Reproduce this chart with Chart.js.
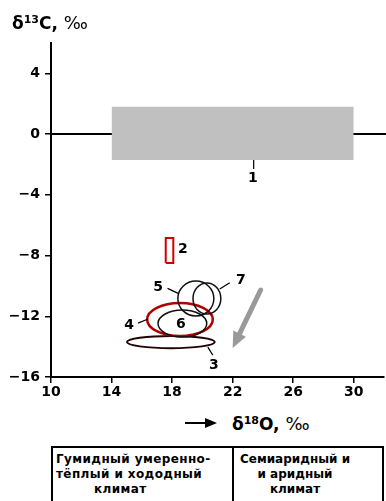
<!DOCTYPE html>
<html>
<head>
<meta charset="utf-8">
<script src="https://cdn.jsdelivr.net/npm/chart.js@4"></script>
<style>
body { margin: 0; width: 386px; height: 501px; overflow: hidden; position: relative; background: #fff; font-family: "DejaVu Sans", sans-serif; }
#wrap { position: absolute; left: 0; top: 0; width: 386px; height: 410px; }
#ytitle { position: absolute; left: 12px; top: 12px; font-size: 17px; font-weight: bold; white-space: nowrap; }
#ytitle sup, #xtitle sup { font-size: 11px; vertical-align: 6px; }
#xtitle { position: absolute; left: 232px; top: 413px; font-size: 17px; font-weight: bold; white-space: nowrap; }
.permil { font-weight: normal; font-size: 18px; }
#xarrow { position: absolute; left: 185px; top: 422px; width: 22px; height: 2px; background: #000; }
#xarrowhead { position: absolute; left: 205px; top: 418px; width: 0; height: 0; border-top: 5px solid transparent; border-bottom: 5px solid transparent; border-left: 12px solid #000; }
#tbl { position: absolute; left: 51px; top: 446px; width: 329px; height: 70px; border: 2px solid #000; }
#divider { position: absolute; left: 179px; top: 0; width: 2px; height: 100%; background: #000; }
.cell { position: absolute; top: 4px; font-size: 12px; font-weight: bold; line-height: 15px; white-space: nowrap; }
</style>
</head>
<body>
<div id="wrap"><canvas id="myChart" width="386" height="410"></canvas></div>
<div id="ytitle">δ<sup>13</sup>C, <span class="permil">‰</span></div>
<div id="xarrow"></div><div id="xarrowhead"></div>
<div id="xtitle">δ<sup>18</sup>O, <span class="permil">‰</span></div>
<div id="tbl">
  <div id="divider"></div>
  <div class="cell" style="left:3px;letter-spacing:0.4px;">Гумидный умеренно-<br>тёплый и хододный<br><span style="padding-left:38px;">климат</span></div>
  <div class="cell" style="left:181px;width:122px;text-align:center;">Семиаридный и<br>и аридный<br>климат</div>
</div>
<script>
// оси
var xTicks = [10, 14, 18, 22, 26, 30];
var yTicks = [4, 0, -4, -8, -12, -16];

// линия 0
var baseX = [10, 32.2];
var baseY = [0, 0];

// поле 1
var range1X = [14, 30];
var range1Y = [-1.7, 1.8];

// поле 2
var range2X = [17.58, 18.08];
var range2Y = [-8.49, -6.85];

// эллипсы 3,4,6,5,7
var ellipseId = ['3', '4', '6', '5', '7'];
var ellipseCX = [17.92, 18.52, 18.68, 19.57, 20.30];
var ellipseCY = [-13.70, -12.21, -12.48, -10.83, -10.83];
var ellipseRX = [2.90, 2.17, 1.61, 1.19, 0.92];
var ellipseRY = [0.40, 1.09, 0.89, 1.15, 1.02];

// подписи
var labelText = ['1', '2', '3', '4', '5', '6', '7'];
var labelX = [23.33, 18.72, 20.76, 15.16, 17.07, 18.58, 22.54];
var labelY = [-2.89, -7.57, -15.21, -12.58, -10.07, -12.51, -9.61];

// выноски
var leaderX1 = [23.39, 20.36, 15.75, 17.70, 21.81];
var leaderY1 = [-1.70, -14.03, -12.45, -10.16, -9.79];
var leaderX2 = [23.39, 20.69, 16.41, 18.40, 21.15];
var leaderY2 = [-2.30, -14.56, -12.18, -10.49, -10.21];

// стрелка тренда
var trendX = [23.85, 22.0];
var trendY = [-10.27, -14.09];

var ellipseStyle = {
	'3': { color: '#220202', width: 2 },
	'4': { color: '#b00000', width: 2.5 },
	'6': { color: '#111', width: 1.5 },
	'5': { color: '#111', width: 1.5 },
	'7': { color: '#111', width: 1.5 }
};

var drawPlugin = {
	id: 'marks',
	afterDatasetsDraw: function(chart) {
		var c = chart.ctx;
		var sx = chart.scales.x, sy = chart.scales.y;
		c.save();
		// эллипсы
		for (var i = 0; i < ellipseId.length; i++) {
			var px = sx.getPixelForValue(ellipseCX[i]);
			var py = sy.getPixelForValue(ellipseCY[i]);
			var rx = Math.abs(sx.getPixelForValue(ellipseCX[i] + ellipseRX[i]) - px);
			var ry = Math.abs(sy.getPixelForValue(ellipseCY[i] + ellipseRY[i]) - py);
			var st = ellipseStyle[ellipseId[i]];
			c.beginPath();
			c.ellipse(px, py, rx, ry, 0, 0, Math.PI * 2);
			c.strokeStyle = st.color;
			c.lineWidth = st.width;
			c.stroke();
		}
		// выноски
		c.strokeStyle = '#000';
		c.lineWidth = 1.2;
		for (var j = 0; j < leaderX1.length; j++) {
			c.beginPath();
			c.moveTo(sx.getPixelForValue(leaderX1[j]), sy.getPixelForValue(leaderY1[j]));
			c.lineTo(sx.getPixelForValue(leaderX2[j]), sy.getPixelForValue(leaderY2[j]));
			c.stroke();
		}
		// стрелка
		var ax = sx.getPixelForValue(trendX[0]), ay = sy.getPixelForValue(trendY[0]);
		var bx = sx.getPixelForValue(trendX[1]), by = sy.getPixelForValue(trendY[1]);
		var ang = Math.atan2(by - ay, bx - ax);
		var hl = 16, hw = 7;
		var cx0 = bx - hl * Math.cos(ang), cy0 = by - hl * Math.sin(ang);
		c.strokeStyle = '#999';
		c.fillStyle = '#999';
		c.lineWidth = 5;
		c.lineCap = 'round';
		c.beginPath();
		c.moveTo(ax, ay);
		c.lineTo(cx0, cy0);
		c.stroke();
		c.beginPath();
		c.moveTo(bx, by);
		c.lineTo(cx0 + hw * Math.sin(ang), cy0 - hw * Math.cos(ang));
		c.lineTo(cx0 - hw * Math.sin(ang), cy0 + hw * Math.cos(ang));
		c.closePath();
		c.fill();
		// номера
		c.fillStyle = '#000';
		c.font = 'bold 14px "DejaVu Sans", sans-serif';
		c.textAlign = 'center';
		c.textBaseline = 'middle';
		for (var k = 0; k < labelText.length; k++) {
			c.fillText(labelText[k], sx.getPixelForValue(labelX[k]), sy.getPixelForValue(labelY[k]));
		}
		c.restore();
	}
};

function pts(xs, ys) {
	var out = [];
	for (var i = 0; i < xs.length; i++) out.push({ x: xs[i], y: ys[i] });
	return out;
}

function minus(v) {
	return v < 0 ? '\u2212' + Math.abs(v) : '' + v;
}

var ctx = document.getElementById('myChart');
var tickFont = { family: '"DejaVu Sans", sans-serif', size: 14, weight: 'bold' };

var data = {
	datasets: [
		{
			// поле 2
			data: [
				{ x: range2X[0], y: range2Y[0] }, { x: range2X[0], y: range2Y[1] },
				{ x: range2X[1], y: range2Y[1] }, { x: range2X[1], y: range2Y[0] },
				{ x: range2X[0], y: range2Y[0] }
			],
			showLine: true,
			borderColor: '#d00000',
			borderWidth: 2,
			pointRadius: 0,
			order: 1
		},
		{
			// поле 1
			data: pts(range1X, [range1Y[1], range1Y[1]]),
			showLine: true,
			borderWidth: 0,
			borderColor: 'rgba(0,0,0,0)',
			backgroundColor: '#c0c0c0',
			fill: { value: range1Y[0] },
			pointRadius: 0,
			order: 2
		},
		{
			data: pts(baseX, baseY),
			showLine: true,
			borderColor: '#000',
			borderWidth: 2,
			pointRadius: 0,
			clip: false,
			order: 3
		}
	]
};

var options = {
	responsive: false,
	animation: false,
	layout: { padding: { top: 43, right: 2, left: 0, bottom: 0 } },
	plugins: { legend: { display: false }, tooltip: { enabled: false } },
	scales: {
		x: {
			type: 'linear',
			min: 10,
			max: 32,
			afterBuildTicks: function(s) { s.ticks = xTicks.map(function(v) { return { value: v }; }); },
			afterFit: function(s) { s.height = 33; },
			grid: { drawOnChartArea: false, drawTicks: true, tickLength: 6, color: '#000', lineWidth: 1.5 },
			border: { display: true, color: '#000', width: 2 },
			ticks: { color: '#000', font: tickFont, padding: 1, maxRotation: 0, callback: minus }
		},
		y: {
			type: 'linear',
			min: -16,
			max: 6,
			afterBuildTicks: function(s) { s.ticks = yTicks.map(function(v) { return { value: v }; }); },
			afterFit: function(s) { s.width = 51; },
			grid: { drawOnChartArea: false, drawTicks: true, tickLength: 6, color: '#000', lineWidth: 1.5 },
			border: { display: true, color: '#000', width: 2 },
			ticks: { color: '#000', font: tickFont, padding: 5, callback: minus }
		}
	}
};

var mychart = new Chart(ctx, {
	type: 'scatter',
	data: data,
	options: options,
	plugins: [drawPlugin]
});
</script>
</body>
</html>
